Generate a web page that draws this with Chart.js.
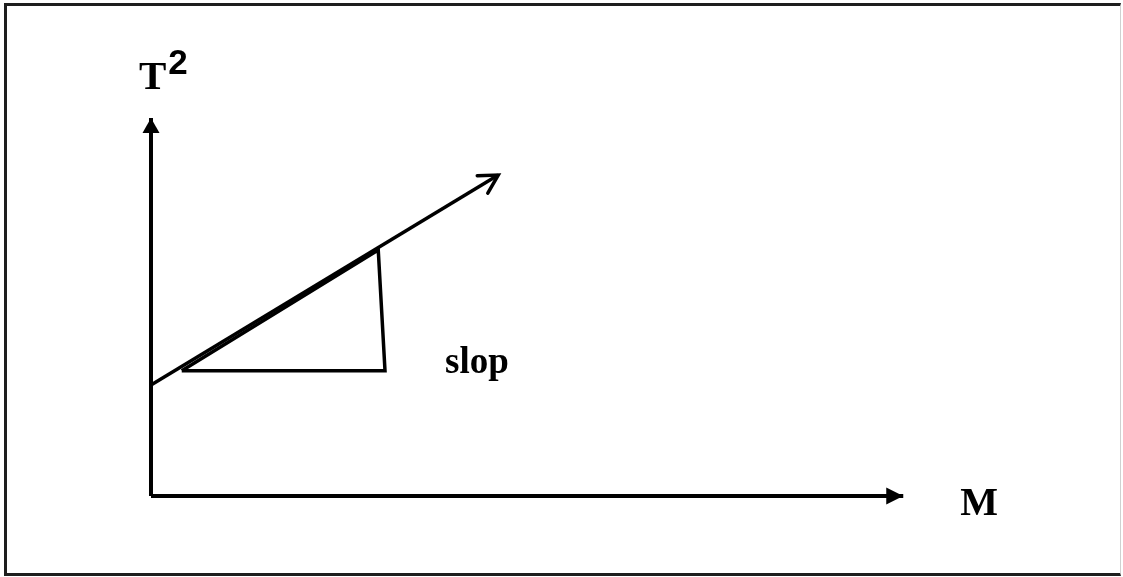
<!DOCTYPE html>
<html>
<head>
<meta charset="utf-8">
<script src="https://cdn.jsdelivr.net/npm/chart.js@4.4.1/dist/chart.umd.min.js"></script>
<style>
  html, body { margin: 0; padding: 0; background: #fff; }
  #wrap { position: relative; width: 1123px; height: 577px; overflow: hidden; }
  #frame {
    position: absolute; left: 4px; top: 3px; width: 1117px; height: 573px;
    box-sizing: border-box;
    border-left: 3px solid #1e1e1e; border-top: 3px solid #1e1e1e;
    border-bottom: 3px solid #1e1e1e; border-right: 1px solid #d0d0d0;
    pointer-events: none;
  }
  canvas { position: absolute; left: 0; top: 0; }
</style>
</head>
<body>
<div id="wrap">
  <canvas id="myChart" width="1123" height="577"></canvas>
  <div id="frame"></div>
</div>
<script>
// axes of the sketch (M across, T^2 up), in sketch units
var mAxis = [{x: 0, y: 0}, {x: 10.03, y: 0}];
var tAxis = [{x: 0, y: 0}, {x: 0, y: 5.04}];

// straight line T^2 against M
var fitLine = [{x: 0, y: 1.48}, {x: 4.63, y: 4.28}];

// slope triangle under the line
var slopeTriangle = [
    {x: 0.41, y: 1.67},
    {x: 3.12, y: 1.67},
    {x: 3.03, y: 3.28},
    {x: 0.41, y: 1.67}
];

// text labels
var labelTexts = ['T', '2', 'M', 'slop'];
var labelPoints = [
    {x: -0.16, y: 5.43},
    {x: 0.23, y: 5.63},
    {x: 10.79, y: -0.25},
    {x: 3.92, y: 1.64}
];

document.addEventListener('DOMContentLoaded', function() {
    var labelFonts = [
        'bold 41px "Liberation Serif"',
        'bold 35px "Liberation Sans"',
        'bold 40px "Liberation Serif"',
        'bold 37px "Liberation Serif"'
    ];

    // arrow heads at the last point of a dataset, then the labels
    var arrowPlugin = {
        id: 'arrows',
        afterDatasetsDraw: function(chart) {
            var ctx = chart.ctx;
            chart.data.datasets.forEach(function(ds, i) {
                if (!ds.arrow) return;
                var pts = chart.getDatasetMeta(i).data;
                var a = pts[pts.length - 1], b = pts[pts.length - 2];
                var ang = Math.atan2(a.y - b.y, a.x - b.x);
                ctx.save();
                ctx.translate(a.x, a.y);
                ctx.rotate(ang);
                ctx.fillStyle = '#000';
                ctx.strokeStyle = '#000';
                if (ds.arrow === 'open') {
                    var len = 21, sp = 29 * Math.PI / 180;
                    ctx.lineWidth = 3.5;
                    ctx.lineCap = 'round';
                    ctx.lineJoin = 'miter';
                    ctx.beginPath();
                    ctx.moveTo(-len * Math.cos(sp), -len * Math.sin(sp));
                    ctx.lineTo(0, 0);
                    ctx.lineTo(-len * Math.cos(sp), len * Math.sin(sp));
                    ctx.stroke();
                } else {
                    ctx.beginPath();
                    ctx.moveTo(0, 0);
                    ctx.lineTo(-ds.arrowLen, -ds.arrowHalf);
                    ctx.lineTo(-ds.arrowLen, ds.arrowHalf);
                    ctx.closePath();
                    ctx.fill();
                }
                ctx.restore();
            });

            var xs = chart.scales.x, ys = chart.scales.y;
            ctx.save();
            ctx.fillStyle = '#000';
            ctx.textBaseline = 'alphabetic';
            ctx.textAlign = 'left';
            labelTexts.forEach(function(t, k) {
                ctx.font = labelFonts[k];
                ctx.fillText(t, xs.getPixelForValue(labelPoints[k].x), ys.getPixelForValue(labelPoints[k].y));
            });
            ctx.restore();
        }
    };

    var ctx = document.getElementById('myChart').getContext('2d');
    var myChart = new Chart(ctx, {
        type: 'scatter',
        data: {
            datasets: [{
                data: mAxis,
                showLine: true,
                borderColor: '#000',
                borderWidth: 4,
                pointRadius: 0,
                arrow: 'filled', arrowLen: 17, arrowHalf: 8.5
            }, {
                data: tAxis,
                showLine: true,
                borderColor: '#000',
                borderWidth: 4,
                pointRadius: 0,
                arrow: 'filled', arrowLen: 15, arrowHalf: 8.5
            }, {
                data: fitLine,
                showLine: true,
                borderColor: '#000',
                borderWidth: 3.5,
                pointRadius: 0,
                arrow: 'open'
            }, {
                data: slopeTriangle,
                showLine: true,
                borderColor: '#000',
                borderWidth: 3.5,
                borderJoinStyle: 'miter',
                pointRadius: 0
            }]
        },
        options: {
            responsive: false,
            animation: false,
            devicePixelRatio: 1,
            layout: { padding: 0 },
            plugins: {
                legend: { display: false },
                tooltip: { enabled: false }
            },
            scales: {
                x: { type: 'linear', min: -2.0133, max: 12.96, display: false },
                y: { type: 'linear', min: -1.08, max: 6.6133, display: false }
            }
        },
        plugins: [arrowPlugin]
    });
});
</script>
</body>
</html>
